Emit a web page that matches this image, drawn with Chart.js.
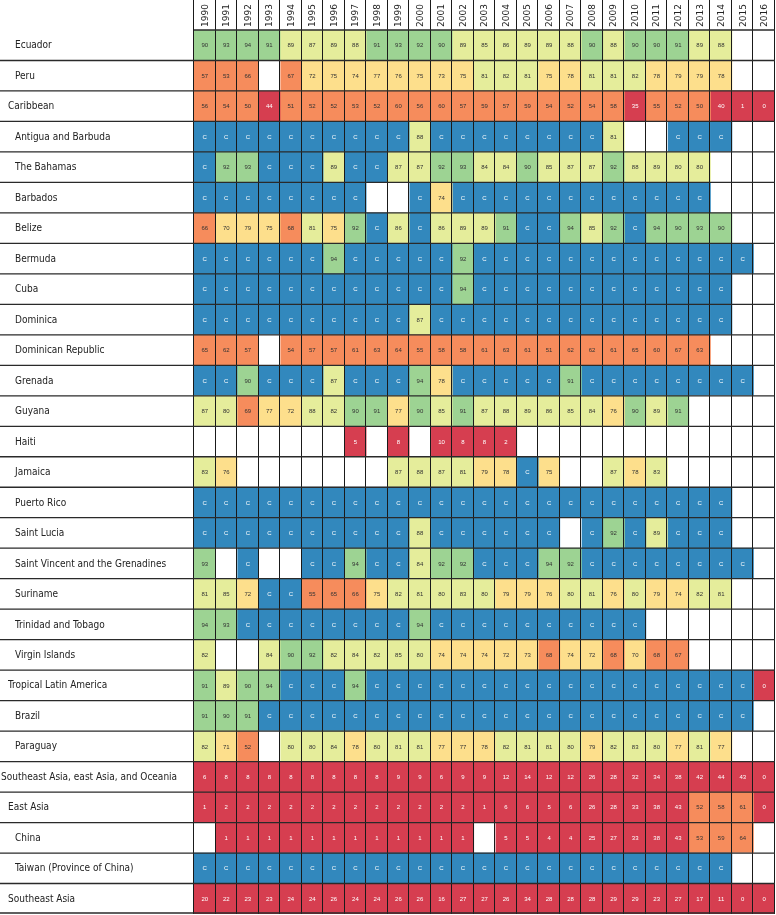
<!DOCTYPE html>
<html>
<head>
<meta charset="utf-8">
<script src="https://cdn.jsdelivr.net/npm/chart.js@4.4.1/dist/chart.umd.min.js"></script>
<style>
html,body{margin:0;padding:0;background:#fff;}
#wrap{width:776px;height:915px;}
</style>
</head>
<body>
<div id="wrap"><canvas id="c" width="776" height="915"></canvas></div>
<script>
const C = 'C', _ = null;

const years = ['1990','1991','1992','1993','1994','1995','1996','1997','1998','1999','2000','2001','2002','2003','2004','2005','2006','2007','2008','2009','2010','2011','2012','2013','2014','2015','2016'];

const rowLabels = ['Ecuador','Peru','Caribbean','Antigua and Barbuda','The Bahamas','Barbados','Belize','Bermuda','Cuba','Dominica','Dominican Republic','Grenada','Guyana','Haiti','Jamaica','Puerto Rico','Saint Lucia','Saint Vincent and the Grenadines','Suriname','Trinidad and Tobago','Virgin Islands','Tropical Latin America','Brazil','Paraguay','Southeast Asia, east Asia, and Oceania','East Asia','China','Taiwan (Province of China)','Southeast Asia'];
const rowLevels = [2,2,1,2,2,2,2,2,2,2,2,2,2,2,2,2,2,2,2,2,2,1,2,2,0,1,2,2,1];

const ecuador   = [90,93,94,91,89,87,89,88,91,93,92,90,89,85,86,89,89,88,90,88,90,90,91,89,88,_,_];
const peru      = [57,53,66,_,67,72,75,74,77,76,75,73,75,81,82,81,75,78,81,81,82,78,79,79,78,_,_];
const caribbean = [56,54,50,44,51,52,52,53,52,60,56,60,57,59,57,59,54,52,54,58,35,55,52,50,40,1,0];
const antigua   = [C,C,C,C,C,C,C,C,C,C,88,C,C,C,C,C,C,C,C,81,_,_,C,C,C,_,_];
const bahamas   = [C,92,93,C,C,C,89,C,C,87,87,92,93,84,84,90,85,87,87,92,88,89,80,80,_,_,_];
const barbados  = [C,C,C,C,C,C,C,C,_,_,C,74,C,C,C,C,C,C,C,C,C,C,C,C,_,_,_];
const belize    = [66,70,79,75,68,81,75,92,C,86,C,86,89,89,91,C,C,94,85,92,C,94,90,93,90,_,_];
const bermuda   = [C,C,C,C,C,C,94,C,C,C,C,C,92,C,C,C,C,C,C,C,C,C,C,C,C,C,_];
const cuba      = [C,C,C,C,C,C,C,C,C,C,C,C,94,C,C,C,C,C,C,C,C,C,C,C,C,_,_];
const dominica  = [C,C,C,C,C,C,C,C,C,C,87,C,C,C,C,C,C,C,C,C,C,C,C,C,C,_,_];
const domRep    = [65,62,57,_,54,57,57,61,63,64,55,58,58,61,63,61,51,62,62,61,65,60,67,63,_,_,_];
const grenada   = [C,C,90,C,C,C,87,C,C,C,94,78,C,C,C,C,C,91,C,C,C,C,C,C,C,C,_];
const guyana    = [87,80,69,77,72,88,82,90,91,77,90,85,91,87,88,89,86,85,84,76,90,89,91,_,_,_,_];
const haiti     = [_,_,_,_,_,_,_,5,_,8,_,10,8,8,2,_,_,_,_,_,_,_,_,_,_,_,_];
const jamaica   = [83,76,_,_,_,_,_,_,_,87,88,87,81,79,78,C,75,_,_,87,78,83,_,_,_,_,_];
const puertoRico= [C,C,C,C,C,C,C,C,C,C,C,C,C,C,C,C,C,C,C,C,C,C,C,C,C,_,_];
const stLucia   = [C,C,C,C,C,C,C,C,C,C,88,C,C,C,C,C,C,_,C,92,C,89,C,C,C,_,_];
const stVincent = [93,_,C,_,_,C,C,94,C,C,84,92,92,C,C,C,94,92,C,C,C,C,C,C,C,C,_];
const suriname  = [81,85,72,C,C,55,65,66,75,82,81,80,83,80,79,79,76,80,81,76,80,79,74,82,81,_,_];
const trinidad  = [94,93,C,C,C,C,C,C,C,C,94,C,C,C,C,C,C,C,C,C,C,_,_,_,_,_,_];
const virginIs  = [82,_,_,84,90,92,82,84,82,85,80,74,74,74,72,73,68,74,72,68,70,68,67,_,_,_,_];
const tropLatAm = [91,89,90,94,C,C,C,94,C,C,C,C,C,C,C,C,C,C,C,C,C,C,C,C,C,C,0];
const brazil    = [91,90,91,C,C,C,C,C,C,C,C,C,C,C,C,C,C,C,C,C,C,C,C,C,C,C,_];
const paraguay  = [82,71,52,_,80,80,84,78,80,81,81,77,77,78,82,81,81,80,79,82,83,80,77,81,77,_,_];
const seaEaO    = [6,8,8,8,8,8,8,8,8,9,9,6,9,9,12,14,12,12,26,28,32,34,38,42,44,43,0];
const eastAsia  = [1,2,2,2,2,2,2,2,2,2,2,2,2,1,6,6,5,6,26,28,33,38,43,52,58,61,0];
const china     = [_,1,1,1,1,1,1,1,1,1,1,1,1,_,5,5,4,4,25,27,33,38,43,53,59,64,_];
const taiwan    = [C,C,C,C,C,C,C,C,C,C,C,C,C,C,C,C,C,C,C,C,C,C,C,C,C,_,_];
const seAsia    = [20,22,23,23,24,24,26,24,24,26,26,16,27,27,26,34,28,28,28,29,29,23,27,17,11,0,0];

const rows = [ecuador,peru,caribbean,antigua,bahamas,barbados,belize,bermuda,cuba,dominica,domRep,grenada,guyana,haiti,jamaica,puertoRico,stLucia,stVincent,suriname,trinidad,virginIs,tropLatAm,brazil,paraguay,seaEaO,eastAsia,china,taiwan,seAsia];

function cellColor(v){
  if (v === null || v === undefined) return '#ffffff';
  if (v === 'C') return '#3288bd';
  if (v >= 90) return '#9dd393';
  if (v >= 80) return '#e5ed9b';
  if (v >= 70) return '#fddf8c';
  if (v >= 50) return '#f68c5c';
  return '#d63e50';
}
function textColor(v){
  if (v === 'C') return '#ffffff';
  if (typeof v === 'number' && v < 50) return '#ffffff';
  return '#333333';
}

const datasets = years.map((yr, j) => {
  const vals = rows.map(r => r[j]);
  return {
    label: yr,
    data: vals.map(() => 1),
    cellValues: vals,
    backgroundColor: vals.map(cellColor),
    borderWidth: 0,
    borderSkipped: false,
    barPercentage: 1,
    categoryPercentage: 1,
    xAxisID: 'x',
    yAxisID: 'y'
  };
});

const LABEL_FONT = "10px 'Liberation Sans Narrow', 'DejaVu Sans Condensed', 'Liberation Sans', sans-serif";
const CELL_FONT = "6px 'Liberation Sans', 'DejaVu Sans', sans-serif";
const YEAR_FONT = "9px 'DejaVu Sans', sans-serif";
const indent = [1, 8, 15];

const tablePlugin = {
  id: 'tablePlugin',
  afterDatasetsDraw(chart) {
    const ctx = chart.ctx;
    const xs = chart.scales.x, xt = chart.scales.xTop, ys = chart.scales.y, area = chart.chartArea;
    const nRows = rowLabels.length;
    const rowH = (area.bottom - area.top) / nRows;
    ctx.save();
    // vertical grid lines (incl. header)
    ctx.strokeStyle = '#1a1a1a';
    ctx.lineWidth = 1;
    for (let k = 0; k <= years.length; k++) {
      const px = Math.round(xs.getPixelForValue(k)) - 0.5;
      ctx.beginPath();
      ctx.moveTo(px, 0);
      ctx.lineTo(px, area.bottom);
      ctx.stroke();
    }
    // horizontal row lines
    ctx.strokeStyle = '#2a2a2a';
    ctx.lineWidth = 1.3;
    for (let i = 0; i <= nRows; i++) {
      const py = (i < nRows ? ys.getPixelForValue(i) - rowH / 2 : area.bottom - 1);
      ctx.beginPath();
      ctx.moveTo(i === 0 ? area.left : 0, py);
      ctx.lineTo(area.right, py);
      ctx.stroke();
    }
    // year labels (top axis)
    ctx.font = YEAR_FONT;
    ctx.fillStyle = '#222222';
    ctx.textAlign = 'left';
    ctx.textBaseline = 'middle';
    years.forEach((yr, j) => {
      ctx.save();
      ctx.translate(xt.getPixelForValue(j) + 0.5, area.top - 3);
      ctx.rotate(-Math.PI / 2);
      ctx.fillText(yr, 0, 0);
      ctx.restore();
    });
    // cell texts
    ctx.font = CELL_FONT;
    ctx.textAlign = 'center';
    ctx.textBaseline = 'middle';
    chart.data.datasets.forEach((ds, d) => {
      const meta = chart.getDatasetMeta(d);
      meta.data.forEach((bar, r) => {
        const v = ds.cellValues[r];
        if (v === null || v === undefined) return;
        ctx.fillStyle = textColor(v);
        ctx.fillText(String(v), (bar.x + bar.base) / 2, bar.y + 0.5);
      });
    });
    // row labels
    ctx.font = LABEL_FONT;
    ctx.textAlign = 'left';
    ctx.fillStyle = '#222222';
    rowLabels.forEach((lab, i) => {
      ctx.fillText(lab, indent[rowLevels[i]], ys.getPixelForValue(i) + 0.5);
    });
    ctx.restore();
  }
};

new Chart(document.getElementById('c'), {
  type: 'bar',
  data: { labels: rowLabels, datasets },
  options: {
    indexAxis: 'y',
    responsive: false,
    animation: false,
    devicePixelRatio: 1,
    layout: { padding: { top: 0, right: 1, bottom: 1, left: 0 } },
    plugins: { legend: { display: false }, tooltip: { enabled: false } },
    scales: {
      x: { type: 'linear', min: 0, max: years.length, stacked: true, display: false },
      xTop: {
        type: 'category', labels: years, position: 'top', offset: true,
        grid: { display: false, drawTicks: false }, border: { display: false },
        ticks: { display: false },
        afterFit(s) { s.height = 30; }
      },
      y: {
        type: 'category', stacked: true, offset: true,
        grid: { display: false }, border: { display: false },
        ticks: { display: false },
        afterFit(s) { s.width = 194; }
      }
    }
  },
  plugins: [tablePlugin]
});
</script>
</body>
</html>
